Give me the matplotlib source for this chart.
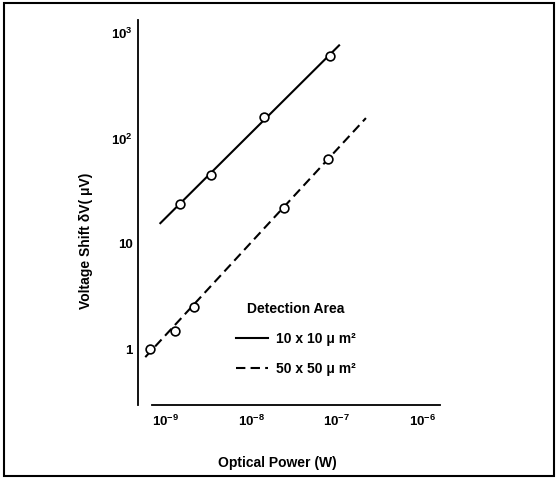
import matplotlib
matplotlib.use('Agg')
import matplotlib.pyplot as plt
from matplotlib.lines import Line2D
from matplotlib.patches import Rectangle

plt.rcParams['font.family'] = ['Liberation Sans', 'DejaVu Sans']
plt.rcParams['font.weight'] = 'bold'
plt.rcParams['axes.labelweight'] = 'bold'
plt.rcParams['mathtext.fontset'] = 'custom'
plt.rcParams['mathtext.rm'] = 'Liberation Sans:bold'
plt.rcParams['mathtext.it'] = 'Liberation Sans:bold'
plt.rcParams['mathtext.bf'] = 'Liberation Sans:bold'

# 10 x 10 um^2 detector: measured points and fitted line ends
small_power = [1.46e-9, 3.42e-9, 1.40e-8, 8.4e-8]
small_shift = [24.0, 44.9, 159.5, 600.0]
small_fit_power = [8.7e-10, 1.06e-7]
small_fit_shift = [15.7, 764.0]

# 50 x 50 um^2 detector
large_power = [6.64e-10, 1.29e-9, 2.16e-9, 2.43e-8, 7.93e-8]
large_shift = [1.01, 1.49, 2.49, 21.8, 63.6]
large_fit_power = [5.8e-10, 2.18e-7]
large_fit_shift = [0.84, 156.0]

x_ticks = [1e-9, 1e-8, 1e-7, 1e-6]
x_tick_labels = [r'$\mathrm{10^{-9}}$', r'$\mathrm{10^{-8}}$', r'$\mathrm{10^{-7}}$', r'$\mathrm{10^{-6}}$']
y_ticks = [1, 10, 100, 1000]
y_tick_labels = ['1', '10', r'$\mathrm{10^{2}}$', r'$\mathrm{10^{3}}$']

W, H = 558, 478
fig = plt.figure(figsize=(W / 100, H / 100), dpi=100)
ax = fig.add_axes([152 / W, 1 - 405 / H, (440 - 152) / W, (405 - 20) / H])

ax.plot(small_fit_power, small_fit_shift, 'k-', lw=1.5, clip_on=False)
ax.plot(small_power, small_shift, 'o', ms=6.3, mfc='white', mec='k', mew=1.2, clip_on=False)
ax.plot(large_fit_power, large_fit_shift, 'k-', lw=1.5, dashes=(4.5, 2.5), clip_on=False)
ax.plot(large_power, large_shift, 'o', ms=6.3, mfc='white', mec='k', mew=1.2, clip_on=False)

ax.set_xscale('log')
ax.set_yscale('log')
ax.set_xlim(10 ** -9.158, 10 ** -5.797)
ax.set_ylim(10 ** -0.53, 10 ** 3.124)
ax.set_xticks(x_ticks)
ax.set_xticklabels(x_tick_labels)
ax.set_yticks(y_ticks)
ax.set_yticklabels(y_tick_labels)
ax.minorticks_off()
ax.tick_params(axis='both', length=0, labelsize=9.5)
ax.tick_params(axis='x', pad=6)
ax.tick_params(axis='y', pad=4)

for s in ['top', 'right']:
    ax.spines[s].set_visible(False)
ax.spines['left'].set_position(('outward', 10))
ax.spines['left'].set_linewidth(1.3)
ax.spines['bottom'].set_linewidth(1.3)

ax.set_xlabel('Optical Power (W)', fontsize=10)
ax.xaxis.set_label_coords(277 / W, 1 - 456 / H, transform=fig.transFigure)
ax.set_ylabel('Voltage Shift δV( μV)', fontsize=10)
ax.yaxis.set_label_coords(93 / W, 1 - 241 / H, transform=fig.transFigure)

handles = [Line2D([], [], color='k', lw=1.5),
           Line2D([], [], color='k', lw=1.5, dashes=(4.5, 2.5))]
ax.legend(handles, ['10 x 10 μ m²', '50 x 50 μ m²'], title='Detection Area',
          frameon=False, loc='upper left', bbox_to_anchor=(229 / W, 1 - 295 / H),
          bbox_transform=fig.transFigure, borderpad=0, handlelength=2.3,
          handletextpad=0.6, labelspacing=1.15, fontsize=10, title_fontsize=10)

fig.patches.append(Rectangle((4 / W, 2 / H), (554 - 4) / W, (473 - 0) / H,
                             transform=fig.transFigure, fill=False, lw=1.5, ec='k'))

fig.savefig('out.png', dpi=100)
